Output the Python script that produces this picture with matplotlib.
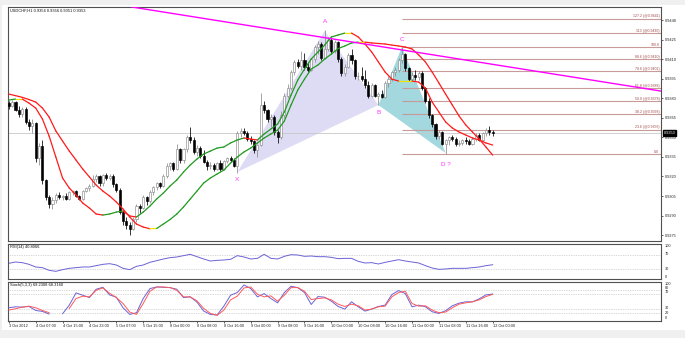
import numpy as np
import matplotlib
matplotlib.use("Agg")
import matplotlib.pyplot as plt
import matplotlib.transforms as mtransforms
from matplotlib.collections import LineCollection
from matplotlib.patches import Polygon, Rectangle

plt.rcParams['font.family'] = ['Liberation Sans', 'DejaVu Sans']

# ---------------- data ----------------
opens = [0.9376, 0.9374, 0.9377, 0.9371, 0.9368, 0.9372, 0.9362, 0.9359, 0.9361, 0.9334,
         0.9343, 0.9317, 0.9304, 0.9299, 0.9302, 0.9306, 0.9304, 0.9305, 0.9303, 0.9308,
         0.9309, 0.9305, 0.9303, 0.9309, 0.9311, 0.9313, 0.9318, 0.9320, 0.9315, 0.9321,
         0.9319, 0.9320, 0.9314, 0.9310, 0.9293, 0.9286, 0.9283, 0.9280, 0.9287, 0.9297,
         0.9296, 0.9304, 0.9301, 0.9308, 0.9312, 0.9315, 0.9313, 0.9320, 0.9328, 0.9330,
         0.9326, 0.9341, 0.9333, 0.9341, 0.9350, 0.9348, 0.9339, 0.9342, 0.9336, 0.9331,
         0.9328, 0.9329, 0.9326, 0.9330, 0.9326, 0.9332, 0.9334, 0.9333, 0.9328, 0.9353,
         0.9355, 0.9353, 0.9349, 0.9347, 0.9340, 0.9344, 0.9375, 0.9371, 0.9364, 0.9366,
         0.9354, 0.9350, 0.9367, 0.9382, 0.9388, 0.9400, 0.9408, 0.9405, 0.9409, 0.9404,
         0.9402, 0.9410, 0.9419, 0.9422, 0.9411, 0.9418, 0.9425, 0.9416, 0.9423, 0.9410,
         0.9399, 0.9404, 0.9413, 0.9409, 0.9397, 0.9397, 0.9395, 0.9390, 0.9382, 0.9390,
         0.9382, 0.9383, 0.9381, 0.9392, 0.9395, 0.9400, 0.9402, 0.9409, 0.9414, 0.9403,
         0.9395, 0.9398, 0.9396, 0.9399, 0.9388, 0.9378, 0.9367, 0.9360, 0.9351, 0.9354,
         0.9345, 0.9348, 0.9350, 0.9349, 0.9345, 0.9346, 0.9348, 0.9347, 0.9345, 0.9349,
         0.9352, 0.9348, 0.9353, 0.9356, 0.9354]
highs = [0.9378, 0.9379, 0.9378, 0.9374, 0.9373, 0.9373, 0.9364, 0.9364, 0.9362, 0.9346,
         0.9348, 0.9318, 0.9306, 0.9304, 0.9307, 0.9308, 0.9306, 0.9307, 0.9309, 0.9310,
         0.9310, 0.9306, 0.9310, 0.9312, 0.9314, 0.9321, 0.9322, 0.9321, 0.9322, 0.9323,
         0.9322, 0.9322, 0.9315, 0.9311, 0.9294, 0.9289, 0.9285, 0.9289, 0.9299, 0.9299,
         0.9306, 0.9305, 0.9310, 0.9313, 0.9316, 0.9316, 0.9322, 0.9330, 0.9331, 0.9331,
         0.9345, 0.9342, 0.9342, 0.9352, 0.9358, 0.9350, 0.9344, 0.9343, 0.9340, 0.9333,
         0.9331, 0.9330, 0.9331, 0.9333, 0.9333, 0.9335, 0.9336, 0.9334, 0.9355, 0.9357,
         0.9357, 0.9355, 0.9351, 0.9348, 0.9345, 0.9384, 0.9378, 0.9372, 0.9368, 0.9367,
         0.9356, 0.9370, 0.9384, 0.9391, 0.9402, 0.9409, 0.9410, 0.9416, 0.9415, 0.9408,
         0.9411, 0.9421, 0.9424, 0.9423, 0.9432, 0.9427, 0.9426, 0.9425, 0.9424, 0.9412,
         0.9406, 0.9415, 0.9418, 0.9410, 0.9400, 0.9404, 0.9402, 0.9393, 0.9392, 0.9391,
         0.9385, 0.9386, 0.9393, 0.9397, 0.9401, 0.9404, 0.9411, 0.9419, 0.9415, 0.9404,
         0.9400, 0.9402, 0.9401, 0.9401, 0.9389, 0.9380, 0.9368, 0.9361, 0.9356, 0.9355,
         0.9349, 0.9351, 0.9352, 0.9350, 0.9348, 0.9349, 0.9350, 0.9349, 0.9350, 0.9353,
         0.9353, 0.9354, 0.9357, 0.9359, 0.9356]
lows = [0.9372, 0.9373, 0.9370, 0.9366, 0.9366, 0.9360, 0.9356, 0.9353, 0.9331, 0.9329,
        0.9314, 0.9302, 0.9296, 0.9295, 0.9300, 0.9303, 0.9302, 0.9302, 0.9302, 0.9306,
        0.9304, 0.9302, 0.9302, 0.9308, 0.9309, 0.9312, 0.9316, 0.9313, 0.9313, 0.9317,
        0.9317, 0.9312, 0.9308, 0.9291, 0.9283, 0.9280, 0.9275, 0.9279, 0.9285, 0.9292,
        0.9295, 0.9298, 0.9300, 0.9306, 0.9310, 0.9311, 0.9312, 0.9319, 0.9325, 0.9324,
        0.9325, 0.9330, 0.9330, 0.9339, 0.9346, 0.9337, 0.9336, 0.9334, 0.9330, 0.9325,
        0.9326, 0.9324, 0.9325, 0.9324, 0.9325, 0.9330, 0.9331, 0.9327, 0.9323, 0.9350,
        0.9352, 0.9347, 0.9345, 0.9338, 0.9335, 0.9343, 0.9369, 0.9362, 0.9358, 0.9352,
        0.9346, 0.9349, 0.9365, 0.9380, 0.9386, 0.9398, 0.9403, 0.9402, 0.9402, 0.9400,
        0.9401, 0.9408, 0.9414, 0.9409, 0.9410, 0.9416, 0.9414, 0.9415, 0.9408, 0.9397,
        0.9397, 0.9403, 0.9406, 0.9395, 0.9394, 0.9393, 0.9388, 0.9380, 0.9381, 0.9381,
        0.9375, 0.9380, 0.9380, 0.9389, 0.9393, 0.9397, 0.9400, 0.9407, 0.9401, 0.9393,
        0.9393, 0.9394, 0.9394, 0.9386, 0.9376, 0.9365, 0.9358, 0.9349, 0.9349, 0.9344,
        0.9337, 0.9344, 0.9347, 0.9343, 0.9343, 0.9344, 0.9345, 0.9344, 0.9344, 0.9347,
        0.9347, 0.9347, 0.9351, 0.9352, 0.9351]
closes = [0.9374, 0.9377, 0.9371, 0.9368, 0.9372, 0.9362, 0.9359, 0.9361, 0.9334, 0.9343,
          0.9317, 0.9304, 0.9299, 0.9302, 0.9306, 0.9304, 0.9305, 0.9303, 0.9308, 0.9309,
          0.9305, 0.9303, 0.9309, 0.9311, 0.9313, 0.9318, 0.9320, 0.9315, 0.9321, 0.9319,
          0.9320, 0.9314, 0.9310, 0.9293, 0.9286, 0.9283, 0.9280, 0.9287, 0.9297, 0.9296,
          0.9304, 0.9301, 0.9308, 0.9312, 0.9315, 0.9313, 0.9320, 0.9328, 0.9330, 0.9326,
          0.9341, 0.9333, 0.9341, 0.9350, 0.9348, 0.9339, 0.9342, 0.9336, 0.9331, 0.9328,
          0.9329, 0.9326, 0.9330, 0.9326, 0.9332, 0.9334, 0.9333, 0.9328, 0.9353, 0.9355,
          0.9353, 0.9349, 0.9347, 0.9340, 0.9344, 0.9375, 0.9371, 0.9364, 0.9366, 0.9354,
          0.9350, 0.9367, 0.9382, 0.9388, 0.9400, 0.9408, 0.9405, 0.9409, 0.9404, 0.9402,
          0.9410, 0.9419, 0.9422, 0.9411, 0.9418, 0.9425, 0.9416, 0.9423, 0.9410, 0.9399,
          0.9404, 0.9413, 0.9409, 0.9397, 0.9397, 0.9395, 0.9390, 0.9382, 0.9390, 0.9382,
          0.9383, 0.9381, 0.9392, 0.9395, 0.9400, 0.9402, 0.9409, 0.9414, 0.9403, 0.9395,
          0.9398, 0.9396, 0.9399, 0.9388, 0.9378, 0.9367, 0.9360, 0.9351, 0.9354, 0.9345,
          0.9348, 0.9350, 0.9349, 0.9345, 0.9346, 0.9348, 0.9347, 0.9345, 0.9349, 0.9352,
          0.9348, 0.9353, 0.9356, 0.9354, 0.9353]

# moving averages (sampled every 2 bars)
ma_bars = list(range(0, 145, 2))
fast_ma = [0.93786, 0.93794, 0.93794, 0.93763, 0.93725, 0.93641, 0.93510, 0.93349, 0.93188, 0.93111,
           0.93058, 0.92996, 0.92958, 0.92912, 0.92904, 0.92912, 0.92927, 0.92935, 0.92897, 0.92889,
           0.92927, 0.92973, 0.93027, 0.93073, 0.93127, 0.93173, 0.93234, 0.93288, 0.93334, 0.93372,
           0.93395, 0.93418, 0.93426, 0.93457, 0.93480, 0.93495, 0.93487, 0.93480, 0.93526, 0.93564,
           0.93602, 0.93694, 0.93825, 0.93940, 0.94024, 0.94101, 0.94155, 0.94208, 0.94270, 0.94285,
           0.94300, 0.94300, 0.94270, 0.94216, 0.94155, 0.94078, 0.94001, 0.93947, 0.93932, 0.93932,
           0.93932, 0.93924, 0.93878, 0.93771, 0.93694, 0.93618, 0.93572, 0.93541, 0.93518, 0.93495,
           0.93480, 0.93457, 0.93441]
slow_ma = [0.93832, 0.93820, 0.93807, 0.93790, 0.93771, 0.93725, 0.93656, 0.93549, 0.93472, 0.93395,
           0.93326, 0.93257, 0.93196, 0.93134, 0.93088, 0.93050, 0.93004, 0.92950, 0.92889, 0.92835,
           0.92812, 0.92799, 0.92801, 0.92835, 0.92870, 0.92912, 0.92966, 0.93027, 0.93088, 0.93150,
           0.93188, 0.93219, 0.93249, 0.93303, 0.93349, 0.93388, 0.93418, 0.93457, 0.93495, 0.93526,
           0.93556, 0.93625, 0.93748, 0.93863, 0.93947, 0.94024, 0.94055, 0.94101, 0.94139, 0.94181,
           0.94201, 0.94224, 0.94231, 0.94231, 0.94224, 0.94220, 0.94216, 0.94208, 0.94201, 0.94193,
           0.94178, 0.94132, 0.94078, 0.94001, 0.93917, 0.93832, 0.93748, 0.93664, 0.93595, 0.93541,
           0.93487, 0.93426, 0.93364]

# RSI(14), sampled every 2 bars
rsi_bars = list(range(0, 145, 2))
rsi_vals = [44.8, 48.6, 46.7, 41.9, 34.3, 32.4, 24.8, 21.9, 26.7, 30.5,
            32.4, 34.3, 34.3, 38.1, 41.9, 43.8, 40.0, 30.5, 26.7, 36.2,
            40.0, 47.6, 52.4, 57.1, 61.0, 62.9, 66.7, 70.5, 63.8, 57.1,
            51.4, 53.3, 54.3, 56.2, 66.7, 62.9, 57.1, 59.0, 70.5, 59.0,
            57.1, 64.8, 69.5, 68.6, 64.8, 65.7, 63.8, 63.8, 61.9, 58.1,
            59.0, 59.0, 50.5, 45.7, 46.7, 42.9, 47.6, 51.4, 55.2, 51.4,
            48.6, 45.7, 38.1, 31.4, 27.6, 28.6, 30.5, 30.5, 30.5, 32.4,
            34.3, 38.1, 40.8066]

# Stochastic (5,3,3), sampled every 2 bars
nan = float('nan')
stoch_bars = list(range(0, 145, 2))
stoch_k = [33.9, 36.4, 35.6, 37.3, 27.1, 24.6, 17.8, nan, 18.6, 40.7,
           72.0, 66.1, 60.2, 81.4, 86.4, 66.9, 61.0, 33.9, 16.9, 21.2,
           57.6, 83.1, 87.3, 86.4, 85.6, 81.4, 60.2, 61.9, 48.3, 25.4,
           16.9, 15.3, 38.1, 66.1, 72.9, 92.4, 83.1, 61.9, 70.3, 57.6,
           46.6, 72.9, 89.0, 85.6, 72.9, 42.4, 62.7, 61.0, 50.8, 37.3,
           30.5, 49.2, 36.4, 25.4, 30.5, 37.3, 40.7, 67.8, 78.0, 70.3,
           36.4, 40.7, 36.4, 23.7, 19.5, 26.3, 39.0, 45.8, 49.2, 49.2,
           56.8, 66.9, 69.2308]
stoch_d = [28.0, 31.4, 35.6, 38.1, 33.9, 27.1, 21.2, nan, nan, 32.2,
           57.6, 63.6, 61.9, 78.8, 84.7, 71.2, 60.2, 44.9, 22.9, 16.9,
           44.9, 76.3, 87.3, 87.3, 85.6, 78.8, 61.9, 61.9, 51.7, 32.2,
           19.5, 14.4, 28.0, 54.2, 63.6, 84.7, 87.3, 68.6, 61.9, 64.4,
           50.8, 66.1, 85.6, 85.6, 76.3, 55.1, 57.6, 59.3, 54.2, 43.2,
           37.3, 43.2, 39.0, 28.0, 30.5, 36.4, 38.1, 61.9, 72.9, 76.3,
           44.9, 38.1, 39.0, 28.0, 21.2, 22.9, 33.9, 43.2, 46.6, 49.2,
           54.2, 62.7, 68.316]

# Fibonacci retracement
fib_labels = ["127.2 (@0.9441)", "113 (@0.9430)", "100.0", "88.6 (@0.9410)", "78.6 (@0.9401)",
              "61.8 (@0.9388)", "50.0 (@0.9378)", "38.2 (@0.9368)", "23.6 (@0.9356)", "0.0"]
fib_prices = [0.9441, 0.9430, 0.9419, 0.9410, 0.9401, 0.9388, 0.9378, 0.9368, 0.9356, 0.9337]
fib_start_bar = 117

# harmonic pattern points (bar, price)
pat_names = ["X", "A", "B", "C", "D ?"]
pat_bars = [68, 94, 110, 117, 130]
pat_prices = [0.93234, 0.94316, 0.93748, 0.94193, 0.93380]
pat_label_prices = [0.93173, 0.94385, 0.93687, 0.94247, 0.93288]

# trend line
trend_bars = [36.6, 194.1]
trend_prices = [0.94500, 0.93855]

bid_price = 0.9353
price_ticks = [0.9440, 0.9425, 0.9410, 0.9395, 0.9380, 0.9365, 0.9350, 0.9335, 0.9320, 0.9305, 0.9290, 0.9275]

time_bars = list(range(0, 145, 8))
time_labels = ["3 Oct 2012", "4 Oct 07:00", "4 Oct 15:00", "4 Oct 23:00", "5 Oct 07:00", "5 Oct 15:00",
               "8 Oct 00:00", "8 Oct 08:00", "8 Oct 16:00", "9 Oct 00:00", "9 Oct 08:00", "9 Oct 16:00",
               "10 Oct 00:00", "10 Oct 08:00", "10 Oct 16:00", "11 Oct 00:00", "11 Oct 08:00",
               "11 Oct 16:00", "12 Oct 00:00"]

# ---------------- figure ----------------
W, H = 685, 338
fig = plt.figure(figsize=(6.85, 3.38), dpi=100, facecolor='#f0f0f0')

def box(x0, y0, x1, y1):
    return [x0 / W, 1 - y1 / H, (x1 - x0) / W, (y1 - y0) / H]

bg = fig.add_axes([0, 0, 1, 1], zorder=-10)
bg.set_axis_off()
bg.set_xlim(0, W); bg.set_ylim(H, 0)
bg.add_patch(Rectangle((2, 5), W - 2, 325, facecolor='white', edgecolor='none'))

ax = fig.add_axes(box(8, 7, 661, 241))
ax_rsi = fig.add_axes(box(8, 244, 661, 279))
ax_st = fig.add_axes(box(8, 282, 661, 321))

XMIN, XMAX = -0.24, 194.1
FS = 2.8
for a in (ax, ax_rsi, ax_st):
    a.set_xlim(XMIN, XMAX)
    a.set_facecolor('white')
    for s in a.spines.values():
        s.set_color('#505050')
        s.set_linewidth(0.8)
    a.tick_params(axis='y', left=False, labelleft=False, right=False, labelright=False)
    a.tick_params(axis='x', bottom=False, labelbottom=False)

# main panel
ax.set_ylim(0.92705, 0.94500)
o = np.array(opens); h = np.array(highs); l = np.array(lows); c = np.array(closes)
idx = np.arange(len(c))
up = c >= o
wick_col = np.where(up, '#8a8a8a', '#000000')
ax.vlines(idx, l, h, colors=wick_col, linewidth=0.55, zorder=3)
ax.bar(idx, np.maximum(np.abs(c - o), 0.000015), bottom=np.minimum(o, c), width=0.62,
       color=np.where(up, 'white', 'black'), edgecolor=np.where(up, '#8a8a8a', '#000000'),
       linewidth=0.45, zorder=3.5)

# pattern triangles
ax.add_patch(Polygon(list(zip(pat_bars[:3], pat_prices[:3])), closed=True,
                     facecolor='#dedcf5', edgecolor='none', zorder=1))
ax.add_patch(Polygon(list(zip(pat_bars[2:], pat_prices[2:])), closed=True,
                     facecolor='#a2d8de', edgecolor='none', zorder=1))

# bid line
ax.axhline(bid_price, color='#c8c8c8', linewidth=0.6, zorder=1.5)

# fib
ax.hlines(fib_prices, fib_start_bar, XMAX, colors='#c99a9a', linewidth=0.8, zorder=2)
for lab, p in zip(fib_labels, fib_prices):
    ax.text(XMAX - 0.5, p + 0.00002, lab, ha='right', va='bottom', fontsize=2.5,
            color='#a04848', zorder=6)

# moving averages with slope colours
def slope_line(a, xs, ys):
    xs = np.array(xs, float); ys = np.array(ys, float)
    segs = [[(xs[k], ys[k]), (xs[k + 1], ys[k + 1])] for k in range(len(xs) - 1)]
    cols = []
    for k in range(len(xs) - 1):
        d = ys[k + 1] - ys[k]
        cols.append('#1f9a1f' if d > 0.00003 else ('#ff1a1a' if d < -0.00003 else '#f2e200'))
    a.add_collection(LineCollection(segs, colors=cols, linewidths=0.9, zorder=4,
                                    capstyle='round', joinstyle='round'))

slope_line(ax, ma_bars, fast_ma)
slope_line(ax, ma_bars, slow_ma)

# trend line
ax.plot(trend_bars, trend_prices, color='#ff00ff', linewidth=1.0, zorder=4.5)

# pattern labels
for name, b, p in zip(pat_names, pat_bars, pat_label_prices):
    ax.text(b, p, name, color='#ff33ff', fontsize=4.6, ha='center', va='center', zorder=6)

# price axis
ax.set_yticks(price_ticks)
ax.set_yticklabels(["%.4f" % t for t in price_ticks])
ax.tick_params(axis='y', right=True, labelright=True, length=1.5, width=0.5, pad=1.2,
               labelsize=FS, colors='#222222', direction='out')
trans = mtransforms.blended_transform_factory(ax.transAxes, ax.transData)
ax.text(1.004, bid_price, "%.4f" % bid_price, transform=trans, fontsize=FS, color='white',
        va='center', ha='left', zorder=10, clip_on=False,
        bbox=dict(boxstyle='square,pad=0.25', facecolor='black', edgecolor='black'))
ax.text(0.003, 0.987, "USDCHF,H1 0.9354 0.9356 0.9351 0.9353", transform=ax.transAxes,
        fontsize=2.9, va='center', ha='left', color='#111111')

# RSI panel
ax_rsi.set_ylim(0, 100)
for lv in (70, 30):
    ax_rsi.axhline(lv, color='#b4b4b4', linewidth=0.5, linestyle=(0, (1, 1.5)))
ax_rsi.plot(rsi_bars, rsi_vals, color='#6b62d6', linewidth=0.7)
ax_rsi.text(0.003, 0.914, "RSI(14) 40.8066", transform=ax_rsi.transAxes, fontsize=2.9,
            va='center', ha='left', color='#111111')
tr = mtransforms.blended_transform_factory(ax_rsi.transAxes, ax_rsi.transData)
for s, v in (("100", 94), ("70", 70.5), ("30", 28.6), ("0", 5)):
    ax_rsi.text(1.006, v, s, transform=tr, fontsize=FS, va='center', ha='left', clip_on=False,
                color='#222222')

# Stoch panel
ax_st.set_ylim(0, 100)
for lv in (80, 70, 30, 20):
    ax_st.axhline(lv, color='#b4b4b4', linewidth=0.5, linestyle=(0, (1, 1.5)))
ax_st.plot(stoch_bars, stoch_k, color='#6b62d6', linewidth=0.7, zorder=3)
ax_st.plot(stoch_bars, stoch_d, color='#ff5a5a', linewidth=0.7, zorder=3)
ax_st.text(0.003, 0.923, "Stoch(5,3,3) 69.2308 68.3160", transform=ax_st.transAxes,
           fontsize=2.9, va='center', ha='left', color='#111111')
ts = mtransforms.blended_transform_factory(ax_st.transAxes, ax_st.transData)
for s, v in (("100", 95), ("80", 85.4), ("70", 75.2), ("30", 32.5), ("20", 21.4), ("0", 8.6)):
    ax_st.text(1.006, v, s, transform=ts, fontsize=FS, va='center', ha='left', clip_on=False,
               color='#222222')

ax_st.set_xticks(time_bars)
ax_st.set_xticklabels(time_labels, ha='left')
ax_st.tick_params(axis='x', bottom=True, labelbottom=True, length=1.5, width=0.5, pad=0.8,
                  labelsize=FS, colors='#222222')

fig.savefig("out.png", dpi=100, facecolor=fig.get_facecolor())
